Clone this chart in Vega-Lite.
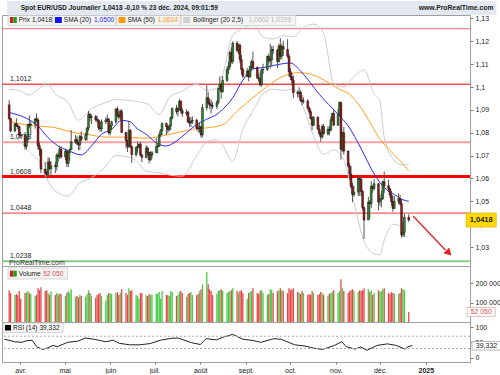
{
"$schema":"https://vega.github.io/schema/vega-lite/v6.json",
"padding":0,
"background":"#ffffff",
"spacing":0,
"bounds":"flush",
"config":{
 "view":{"stroke":"#a0a0a0","strokeWidth":1},
 "locale":{"number":{"decimal":",","thousands":" ","grouping":[3],"currency":["","€"]}},
 "axis":{"labelFont":"Liberation Sans","labelFontSize":7,"labelColor":"#222222","tickColor":"#777777","domainColor":"#a0a0a0","grid":false,"tickSize":3,"labelPadding":2},
 "text":{"font":"Liberation Sans","fontSize":6.6,"align":"left","baseline":"middle","color":"#222222"}
},
"datasets":{
"px":[
{"d":"2024-03-21","o":1.0922,"h":1.0942,"l":1.0855,"c":1.0862,"v":165000},
{"d":"2024-03-22","o":1.0862,"h":1.0866,"l":1.0802,"c":1.0808,"v":150000},
{"d":"2024-03-25","o":1.0808,"h":1.0842,"l":1.0802,"c":1.0839,"v":140000},
{"d":"2024-03-26","o":1.0839,"h":1.0864,"l":1.0826,"c":1.0830,"v":145000},
{"d":"2024-03-27","o":1.0830,"h":1.0840,"l":1.0814,"c":1.0826,"v":138000},
{"d":"2024-03-28","o":1.0826,"h":1.0830,"l":1.0775,"c":1.0790,"v":160000},
{"d":"2024-03-29","o":1.0790,"h":1.0804,"l":1.0776,"c":1.0787,"v":120000},
{"d":"2024-04-01","o":1.0787,"h":1.0803,"l":1.0725,"c":1.0741,"v":150000},
{"d":"2024-04-02","o":1.0741,"h":1.0778,"l":1.0728,"c":1.0771,"v":155000},
{"d":"2024-04-03","o":1.0771,"h":1.0840,"l":1.0756,"c":1.0836,"v":160000},
{"d":"2024-04-04","o":1.0836,"h":1.0876,"l":1.0820,"c":1.0833,"v":150000},
{"d":"2024-04-05","o":1.0833,"h":1.0849,"l":1.0792,"c":1.0837,"v":145000},
{"d":"2024-04-08","o":1.0837,"h":1.0865,"l":1.0818,"c":1.0860,"v":135000},
{"d":"2024-04-09","o":1.0860,"h":1.0885,"l":1.0848,"c":1.0856,"v":140000},
{"d":"2024-04-10","o":1.0856,"h":1.0866,"l":1.0728,"c":1.0743,"v":175000},
{"d":"2024-04-11","o":1.0743,"h":1.0756,"l":1.0699,"c":1.0727,"v":165000},
{"d":"2024-04-12","o":1.0727,"h":1.0732,"l":1.0623,"c":1.0641,"v":180000},
{"d":"2024-04-15","o":1.0641,"h":1.0672,"l":1.0615,"c":1.0624,"v":160000},
{"d":"2024-04-16","o":1.0624,"h":1.0634,"l":1.0601,"c":1.0618,"v":165000},
{"d":"2024-04-17","o":1.0618,"h":1.0692,"l":1.0612,"c":1.0672,"v":150000},
{"d":"2024-04-18","o":1.0672,"h":1.0690,"l":1.0639,"c":1.0643,"v":140000},
{"d":"2024-04-19","o":1.0643,"h":1.0675,"l":1.0611,"c":1.0656,"v":158000},
{"d":"2024-04-22","o":1.0656,"h":1.0672,"l":1.0623,"c":1.0652,"v":140000},
{"d":"2024-04-23","o":1.0652,"h":1.0710,"l":1.0634,"c":1.0702,"v":150000},
{"d":"2024-04-24","o":1.0702,"h":1.0713,"l":1.0673,"c":1.0697,"v":142000},
{"d":"2024-04-25","o":1.0697,"h":1.0743,"l":1.0685,"c":1.0728,"v":148000},
{"d":"2024-04-26","o":1.0728,"h":1.0740,"l":1.0688,"c":1.0694,"v":145000},
{"d":"2024-04-29","o":1.0694,"h":1.0731,"l":1.0680,"c":1.0720,"v":135000},
{"d":"2024-04-30","o":1.0720,"h":1.0725,"l":1.0650,"c":1.0666,"v":150000},
{"d":"2024-05-01","o":1.0666,"h":1.0719,"l":1.0650,"c":1.0714,"v":160000},
{"d":"2024-05-02","o":1.0714,"h":1.0730,"l":1.0677,"c":1.0727,"v":150000},
{"d":"2024-05-03","o":1.0727,"h":1.0812,"l":1.0725,"c":1.0760,"v":170000},
{"d":"2024-05-06","o":1.0760,"h":1.0790,"l":1.0752,"c":1.0770,"v":130000},
{"d":"2024-05-07","o":1.0770,"h":1.0785,"l":1.0746,"c":1.0754,"v":135000},
{"d":"2024-05-08","o":1.0754,"h":1.0760,"l":1.0723,"c":1.0747,"v":128000},
{"d":"2024-05-09","o":1.0747,"h":1.0790,"l":1.0724,"c":1.0783,"v":140000},
{"d":"2024-05-10","o":1.0783,"h":1.0806,"l":1.0765,"c":1.0770,"v":135000},
{"d":"2024-05-13","o":1.0770,"h":1.0801,"l":1.0765,"c":1.0790,"v":130000},
{"d":"2024-05-14","o":1.0790,"h":1.0826,"l":1.0765,"c":1.0820,"v":145000},
{"d":"2024-05-15","o":1.0820,"h":1.0895,"l":1.0810,"c":1.0880,"v":165000},
{"d":"2024-05-16","o":1.0880,"h":1.0888,"l":1.0850,"c":1.0866,"v":150000},
{"d":"2024-05-17","o":1.0866,"h":1.0880,"l":1.0838,"c":1.0870,"v":135000},
{"d":"2024-05-20","o":1.0870,"h":1.0878,"l":1.0848,"c":1.0857,"v":125000},
{"d":"2024-05-21","o":1.0857,"h":1.0874,"l":1.0842,"c":1.0854,"v":140000},
{"d":"2024-05-22","o":1.0854,"h":1.0861,"l":1.0811,"c":1.0822,"v":145000},
{"d":"2024-05-23","o":1.0822,"h":1.0852,"l":1.0804,"c":1.0817,"v":150000},
{"d":"2024-05-24","o":1.0817,"h":1.0858,"l":1.0805,"c":1.0847,"v":135000},
{"d":"2024-05-27","o":1.0847,"h":1.0868,"l":1.0838,"c":1.0856,"v":110000},
{"d":"2024-05-28","o":1.0856,"h":1.0880,"l":1.0848,"c":1.0859,"v":140000},
{"d":"2024-05-29","o":1.0859,"h":1.0865,"l":1.0792,"c":1.0800,"v":150000},
{"d":"2024-05-30","o":1.0800,"h":1.0833,"l":1.0788,"c":1.0830,"v":148000},
{"d":"2024-05-31","o":1.0830,"h":1.0852,"l":1.0812,"c":1.0848,"v":145000},
{"d":"2024-06-03","o":1.0848,"h":1.0907,"l":1.0840,"c":1.0904,"v":150000},
{"d":"2024-06-04","o":1.0904,"h":1.0915,"l":1.0867,"c":1.0877,"v":155000},
{"d":"2024-06-05","o":1.0877,"h":1.0888,"l":1.0858,"c":1.0869,"v":140000},
{"d":"2024-06-06","o":1.0869,"h":1.0902,"l":1.0857,"c":1.0893,"v":150000},
{"d":"2024-06-07","o":1.0893,"h":1.0903,"l":1.0800,"c":1.0801,"v":170000},
{"d":"2024-06-10","o":1.0801,"h":1.0804,"l":1.0732,"c":1.0766,"v":150000},
{"d":"2024-06-11","o":1.0766,"h":1.0767,"l":1.0715,"c":1.0741,"v":140000},
{"d":"2024-06-12","o":1.0741,"h":1.0852,"l":1.0733,"c":1.0810,"v":175000},
{"d":"2024-06-13","o":1.0810,"h":1.0816,"l":1.0734,"c":1.0739,"v":160000},
{"d":"2024-06-14","o":1.0739,"h":1.0743,"l":1.0668,"c":1.0704,"v":165000},
{"d":"2024-06-17","o":1.0704,"h":1.0740,"l":1.0695,"c":1.0736,"v":140000},
{"d":"2024-06-18","o":1.0736,"h":1.0761,"l":1.0712,"c":1.0740,"v":135000},
{"d":"2024-06-19","o":1.0740,"h":1.0752,"l":1.0730,"c":1.0750,"v":120000},
{"d":"2024-06-20","o":1.0750,"h":1.0761,"l":1.0697,"c":1.0702,"v":150000},
{"d":"2024-06-21","o":1.0702,"h":1.0709,"l":1.0671,"c":1.0692,"v":150000},
{"d":"2024-06-24","o":1.0692,"h":1.0745,"l":1.0688,"c":1.0733,"v":138000},
{"d":"2024-06-25","o":1.0733,"h":1.0740,"l":1.0700,"c":1.0714,"v":135000},
{"d":"2024-06-26","o":1.0714,"h":1.0716,"l":1.0666,"c":1.0682,"v":145000},
{"d":"2024-06-27","o":1.0682,"h":1.0719,"l":1.0676,"c":1.0702,"v":140000},
{"d":"2024-06-28","o":1.0702,"h":1.0720,"l":1.0687,"c":1.0713,"v":142000},
{"d":"2024-07-01","o":1.0713,"h":1.0776,"l":1.0710,"c":1.0739,"v":148000},
{"d":"2024-07-02","o":1.0739,"h":1.0755,"l":1.0710,"c":1.0741,"v":145000},
{"d":"2024-07-03","o":1.0741,"h":1.0800,"l":1.0738,"c":1.0790,"v":155000},
{"d":"2024-07-04","o":1.0790,"h":1.0816,"l":1.0783,"c":1.0810,"v":120000},
{"d":"2024-07-05","o":1.0810,"h":1.0845,"l":1.0790,"c":1.0840,"v":160000},
{"d":"2024-07-08","o":1.0840,"h":1.0845,"l":1.0790,"c":1.0826,"v":140000},
{"d":"2024-07-09","o":1.0826,"h":1.0832,"l":1.0797,"c":1.0813,"v":138000},
{"d":"2024-07-10","o":1.0813,"h":1.0835,"l":1.0806,"c":1.0830,"v":135000},
{"d":"2024-07-11","o":1.0830,"h":1.0871,"l":1.0812,"c":1.0866,"v":160000},
{"d":"2024-07-12","o":1.0866,"h":1.0910,"l":1.0858,"c":1.0907,"v":155000},
{"d":"2024-07-15","o":1.0907,"h":1.0922,"l":1.0880,"c":1.0893,"v":135000},
{"d":"2024-07-16","o":1.0893,"h":1.0913,"l":1.0872,"c":1.0902,"v":140000},
{"d":"2024-07-17","o":1.0902,"h":1.0948,"l":1.0898,"c":1.0937,"v":155000},
{"d":"2024-07-18","o":1.0937,"h":1.0943,"l":1.0886,"c":1.0897,"v":160000},
{"d":"2024-07-19","o":1.0897,"h":1.0907,"l":1.0868,"c":1.0884,"v":150000},
{"d":"2024-07-22","o":1.0884,"h":1.0902,"l":1.0874,"c":1.0890,"v":130000},
{"d":"2024-07-23","o":1.0890,"h":1.0895,"l":1.0841,"c":1.0847,"v":145000},
{"d":"2024-07-24","o":1.0847,"h":1.0868,"l":1.0826,"c":1.0843,"v":150000},
{"d":"2024-07-25","o":1.0843,"h":1.0869,"l":1.0825,"c":1.0850,"v":155000},
{"d":"2024-07-26","o":1.0850,"h":1.0872,"l":1.0838,"c":1.0855,"v":140000},
{"d":"2024-07-29","o":1.0855,"h":1.0862,"l":1.0810,"c":1.0820,"v":138000},
{"d":"2024-07-30","o":1.0820,"h":1.0838,"l":1.0802,"c":1.0818,"v":145000},
{"d":"2024-07-31","o":1.0818,"h":1.0846,"l":1.0800,"c":1.0826,"v":160000},
{"d":"2024-08-01","o":1.0826,"h":1.0830,"l":1.0778,"c":1.0790,"v":170000},
{"d":"2024-08-02","o":1.0790,"h":1.0926,"l":1.0780,"c":1.0910,"v":195000},
{"d":"2024-08-05","o":1.0910,"h":1.1008,"l":1.0897,"c":1.0953,"v":257000},
{"d":"2024-08-06","o":1.0953,"h":1.0978,"l":1.0925,"c":1.0930,"v":195000},
{"d":"2024-08-07","o":1.0930,"h":1.0947,"l":1.0904,"c":1.0922,"v":170000},
{"d":"2024-08-08","o":1.0922,"h":1.0944,"l":1.0884,"c":1.0918,"v":160000},
{"d":"2024-08-09","o":1.0918,"h":1.0935,"l":1.0904,"c":1.0916,"v":140000},
{"d":"2024-08-12","o":1.0916,"h":1.0942,"l":1.0903,"c":1.0933,"v":145000},
{"d":"2024-08-13","o":1.0933,"h":1.0996,"l":1.0925,"c":1.0993,"v":160000},
{"d":"2024-08-14","o":1.0993,"h":1.1047,"l":1.0985,"c":1.1012,"v":165000},
{"d":"2024-08-15","o":1.1012,"h":1.1020,"l":1.0948,"c":1.0980,"v":170000},
{"d":"2024-08-16","o":1.0980,"h":1.1048,"l":1.0975,"c":1.1029,"v":160000},
{"d":"2024-08-19","o":1.1029,"h":1.1086,"l":1.1022,"c":1.1076,"v":150000},
{"d":"2024-08-20","o":1.1076,"h":1.1110,"l":1.1057,"c":1.1090,"v":155000},
{"d":"2024-08-21","o":1.1090,"h":1.1160,"l":1.1078,"c":1.1151,"v":160000},
{"d":"2024-08-22","o":1.1151,"h":1.1174,"l":1.1103,"c":1.1112,"v":165000},
{"d":"2024-08-23","o":1.1112,"h":1.1200,"l":1.1101,"c":1.1192,"v":175000},
{"d":"2024-08-26","o":1.1192,"h":1.1202,"l":1.1150,"c":1.1160,"v":160000},
{"d":"2024-08-27","o":1.1160,"h":1.1189,"l":1.1144,"c":1.1183,"v":150000},
{"d":"2024-08-28","o":1.1183,"h":1.1190,"l":1.1105,"c":1.1120,"v":160000},
{"d":"2024-08-29","o":1.1120,"h":1.1140,"l":1.1056,"c":1.1077,"v":165000},
{"d":"2024-08-30","o":1.1077,"h":1.1086,"l":1.1040,"c":1.1047,"v":150000},
{"d":"2024-09-02","o":1.1047,"h":1.1083,"l":1.1043,"c":1.1070,"v":120000},
{"d":"2024-09-03","o":1.1070,"h":1.1075,"l":1.1026,"c":1.1045,"v":150000},
{"d":"2024-09-04","o":1.1045,"h":1.1093,"l":1.1040,"c":1.1090,"v":155000},
{"d":"2024-09-05","o":1.1090,"h":1.1120,"l":1.1070,"c":1.1111,"v":160000},
{"d":"2024-09-06","o":1.1111,"h":1.1155,"l":1.1075,"c":1.1085,"v":175000},
{"d":"2024-09-09","o":1.1085,"h":1.1090,"l":1.1035,"c":1.1040,"v":150000},
{"d":"2024-09-10","o":1.1040,"h":1.1057,"l":1.1022,"c":1.1035,"v":145000},
{"d":"2024-09-11","o":1.1035,"h":1.1068,"l":1.1002,"c":1.1010,"v":160000},
{"d":"2024-09-12","o":1.1010,"h":1.1080,"l":1.1002,"c":1.1075,"v":165000},
{"d":"2024-09-13","o":1.1075,"h":1.1102,"l":1.1057,"c":1.1077,"v":150000},
{"d":"2024-09-16","o":1.1077,"h":1.1138,"l":1.1070,"c":1.1134,"v":140000},
{"d":"2024-09-17","o":1.1134,"h":1.1147,"l":1.1106,"c":1.1115,"v":145000},
{"d":"2024-09-18","o":1.1115,"h":1.1189,"l":1.1080,"c":1.1119,"v":170000},
{"d":"2024-09-19","o":1.1119,"h":1.1179,"l":1.1090,"c":1.1163,"v":165000},
{"d":"2024-09-20","o":1.1163,"h":1.1180,"l":1.1145,"c":1.1161,"v":150000},
{"d":"2024-09-23","o":1.1161,"h":1.1167,"l":1.1083,"c":1.1112,"v":160000},
{"d":"2024-09-24","o":1.1112,"h":1.1190,"l":1.1106,"c":1.1180,"v":165000},
{"d":"2024-09-25","o":1.1180,"h":1.1214,"l":1.1123,"c":1.1135,"v":175000},
{"d":"2024-09-26","o":1.1135,"h":1.1189,"l":1.1120,"c":1.1177,"v":165000},
{"d":"2024-09-27","o":1.1177,"h":1.1202,"l":1.1136,"c":1.1165,"v":160000},
{"d":"2024-09-30","o":1.1165,"h":1.1209,"l":1.1127,"c":1.1135,"v":150000},
{"d":"2024-10-01","o":1.1135,"h":1.1146,"l":1.1045,"c":1.1067,"v":175000},
{"d":"2024-10-02","o":1.1067,"h":1.1083,"l":1.1031,"c":1.1045,"v":165000},
{"d":"2024-10-03","o":1.1045,"h":1.1063,"l":1.1005,"c":1.1030,"v":170000},
{"d":"2024-10-04","o":1.1030,"h":1.1050,"l":1.0951,"c":1.0975,"v":175000},
{"d":"2024-10-07","o":1.0975,"h":1.0985,"l":1.0955,"c":1.0972,"v":155000},
{"d":"2024-10-08","o":1.0972,"h":1.0999,"l":1.0955,"c":1.0978,"v":150000},
{"d":"2024-10-09","o":1.0978,"h":1.0985,"l":1.0935,"c":1.0942,"v":145000},
{"d":"2024-10-10","o":1.0942,"h":1.0965,"l":1.0920,"c":1.0937,"v":160000},
{"d":"2024-10-11","o":1.0937,"h":1.0955,"l":1.0927,"c":1.0939,"v":150000},
{"d":"2024-10-14","o":1.0939,"h":1.0946,"l":1.0900,"c":1.0908,"v":140000},
{"d":"2024-10-15","o":1.0908,"h":1.0916,"l":1.0880,"c":1.0892,"v":145000},
{"d":"2024-10-16","o":1.0892,"h":1.0904,"l":1.0858,"c":1.0862,"v":140000},
{"d":"2024-10-17","o":1.0862,"h":1.0873,"l":1.0811,"c":1.0833,"v":160000},
{"d":"2024-10-18","o":1.0833,"h":1.0872,"l":1.0829,"c":1.0868,"v":150000},
{"d":"2024-10-21","o":1.0868,"h":1.0872,"l":1.0811,"c":1.0816,"v":140000},
{"d":"2024-10-22","o":1.0816,"h":1.0834,"l":1.0788,"c":1.0797,"v":145000},
{"d":"2024-10-23","o":1.0797,"h":1.0806,"l":1.0761,"c":1.0781,"v":155000},
{"d":"2024-10-24","o":1.0781,"h":1.0837,"l":1.0774,"c":1.0827,"v":150000},
{"d":"2024-10-25","o":1.0827,"h":1.0838,"l":1.0793,"c":1.0795,"v":140000},
{"d":"2024-10-28","o":1.0795,"h":1.0828,"l":1.0788,"c":1.0815,"v":135000},
{"d":"2024-10-29","o":1.0815,"h":1.0830,"l":1.0788,"c":1.0812,"v":145000},
{"d":"2024-10-30","o":1.0812,"h":1.0870,"l":1.0805,"c":1.0856,"v":150000},
{"d":"2024-10-31","o":1.0856,"h":1.0888,"l":1.0850,"c":1.0884,"v":155000},
{"d":"2024-11-01","o":1.0884,"h":1.0905,"l":1.0830,"c":1.0833,"v":165000},
{"d":"2024-11-04","o":1.0833,"h":1.0905,"l":1.0830,"c":1.0880,"v":150000},
{"d":"2024-11-05","o":1.0880,"h":1.0937,"l":1.0872,"c":1.0932,"v":160000},
{"d":"2024-11-06","o":1.0932,"h":1.0936,"l":1.0682,"c":1.0727,"v":222000},
{"d":"2024-11-07","o":1.0727,"h":1.0805,"l":1.0715,"c":1.0800,"v":175000},
{"d":"2024-11-08","o":1.0800,"h":1.0826,"l":1.0705,"c":1.0720,"v":160000},
{"d":"2024-11-11","o":1.0720,"h":1.0722,"l":1.0647,"c":1.0655,"v":150000},
{"d":"2024-11-12","o":1.0655,"h":1.0668,"l":1.0595,"c":1.0620,"v":160000},
{"d":"2024-11-13","o":1.0620,"h":1.0653,"l":1.0557,"c":1.0565,"v":165000},
{"d":"2024-11-14","o":1.0565,"h":1.0581,"l":1.0496,"c":1.0530,"v":170000},
{"d":"2024-11-15","o":1.0530,"h":1.0569,"l":1.0520,"c":1.0540,"v":160000},
{"d":"2024-11-18","o":1.0540,"h":1.0608,"l":1.0523,"c":1.0600,"v":155000},
{"d":"2024-11-19","o":1.0600,"h":1.0610,"l":1.0524,"c":1.0596,"v":165000},
{"d":"2024-11-20","o":1.0596,"h":1.0611,"l":1.0523,"c":1.0543,"v":160000},
{"d":"2024-11-21","o":1.0543,"h":1.0549,"l":1.0460,"c":1.0473,"v":165000},
{"d":"2024-11-22","o":1.0473,"h":1.0476,"l":1.0335,"c":1.0418,"v":175000},
{"d":"2024-11-25","o":1.0418,"h":1.0520,"l":1.0418,"c":1.0496,"v":170000},
{"d":"2024-11-26","o":1.0496,"h":1.0506,"l":1.0424,"c":1.0489,"v":155000},
{"d":"2024-11-27","o":1.0489,"h":1.0588,"l":1.0470,"c":1.0566,"v":165000},
{"d":"2024-11-28","o":1.0566,"h":1.0570,"l":1.0538,"c":1.0556,"v":140000},
{"d":"2024-11-29","o":1.0556,"h":1.0597,"l":1.0548,"c":1.0577,"v":150000},
{"d":"2024-12-02","o":1.0577,"h":1.0579,"l":1.0460,"c":1.0497,"v":165000},
{"d":"2024-12-03","o":1.0497,"h":1.0530,"l":1.0480,"c":1.0510,"v":155000},
{"d":"2024-12-04","o":1.0510,"h":1.0544,"l":1.0473,"c":1.0512,"v":160000},
{"d":"2024-12-05","o":1.0512,"h":1.0590,"l":1.0505,"c":1.0586,"v":170000},
{"d":"2024-12-06","o":1.0586,"h":1.0630,"l":1.0537,"c":1.0568,"v":175000},
{"d":"2024-12-09","o":1.0568,"h":1.0594,"l":1.0540,"c":1.0554,"v":150000},
{"d":"2024-12-10","o":1.0554,"h":1.0560,"l":1.0515,"c":1.0528,"v":145000},
{"d":"2024-12-11","o":1.0528,"h":1.0545,"l":1.0481,"c":1.0499,"v":155000},
{"d":"2024-12-12","o":1.0499,"h":1.0522,"l":1.0454,"c":1.0469,"v":150000},
{"d":"2024-12-13","o":1.0469,"h":1.0524,"l":1.0467,"c":1.0500,"v":148000},
{"d":"2024-12-16","o":1.0500,"h":1.0535,"l":1.0487,"c":1.0512,"v":145000},
{"d":"2024-12-17","o":1.0512,"h":1.0527,"l":1.0480,"c":1.0490,"v":150000},
{"d":"2024-12-18","o":1.0490,"h":1.0510,"l":1.0342,"c":1.0353,"v":175000},
{"d":"2024-12-19","o":1.0353,"h":1.0412,"l":1.0343,"c":1.0364,"v":170000},
{"d":"2024-12-20","o":1.0364,"h":1.0445,"l":1.0344,"c":1.0430,"v":165000},
{"d":"2024-12-23","o":1.0430,"h":1.0444,"l":1.0410,"c":1.0418,"v":52050}
],
"sma20":[
{"d":"2024-03-21","s":1.0888},{"d":"2024-04-02","s":1.0863},{"d":"2024-04-10","s":1.0829},{"d":"2024-04-17","s":1.0778},{"d":"2024-04-24","s":1.0742},{"d":"2024-05-01","s":1.0722},{"d":"2024-05-10","s":1.0703},{"d":"2024-05-17","s":1.0742},{"d":"2024-05-24","s":1.0793},{"d":"2024-05-31","s":1.0815},{"d":"2024-06-07","s":1.0854},{"d":"2024-06-13","s":1.0848},{"d":"2024-06-17","s":1.0822},{"d":"2024-06-24","s":1.0793},{"d":"2024-07-02","s":1.0752},{"d":"2024-07-08","s":1.0742},{"d":"2024-07-15","s":1.0764},{"d":"2024-07-22","s":1.0800},{"d":"2024-07-29","s":1.0837},{"d":"2024-08-05","s":1.0859},{"d":"2024-08-12","s":1.0881},{"d":"2024-08-16","s":1.0902},{"d":"2024-08-23","s":1.0953},{"d":"2024-08-30","s":1.1030},{"d":"2024-09-06","s":1.1080},{"d":"2024-09-13","s":1.1085},{"d":"2024-09-20","s":1.1094},{"d":"2024-10-02","s":1.1105},{"d":"2024-10-09","s":1.1070},{"d":"2024-10-22","s":1.0968},{"d":"2024-11-04","s":1.0880},{"d":"2024-11-11","s":1.0830},{"d":"2024-11-20","s":1.0730},{"d":"2024-11-29","s":1.0620},{"d":"2024-12-06","s":1.0560},{"d":"2024-12-13","s":1.0530},{"d":"2024-12-18","s":1.0509},{"d":"2024-12-23","s":1.0500}
],
"sma50":[
{"d":"2024-03-21","s":1.0851},{"d":"2024-04-02","s":1.0834},{"d":"2024-04-10","s":1.0829},{"d":"2024-04-22","s":1.0822},{"d":"2024-05-03","s":1.0803},{"d":"2024-05-14","s":1.0793},{"d":"2024-05-27","s":1.0781},{"d":"2024-06-07","s":1.0781},{"d":"2024-06-24","s":1.0776},{"d":"2024-07-02","s":1.0782},{"d":"2024-07-15","s":1.0800},{"d":"2024-07-26","s":1.0815},{"d":"2024-08-06","s":1.0822},{"d":"2024-08-16","s":1.0835},{"d":"2024-08-27","s":1.0900},{"d":"2024-09-12","s":1.0983},{"d":"2024-09-25","s":1.1041},{"d":"2024-10-08","s":1.1063},{"d":"2024-10-15","s":1.1058},{"d":"2024-10-22","s":1.1041},{"d":"2024-11-05","s":1.0990},{"d":"2024-11-12","s":1.0968},{"d":"2024-11-19","s":1.0917},{"d":"2024-12-04","s":1.0764},{"d":"2024-12-16","s":1.0684},{"d":"2024-12-23","s":1.0634}
],
"bb":[
{"d":"2024-03-21","u":1.0990,"lo":1.0785},{"d":"2024-03-28","u":1.0985,"lo":1.0765},{"d":"2024-04-04","u":1.0965,"lo":1.0715},{"d":"2024-04-11","u":1.0995,"lo":1.0670},{"d":"2024-04-16","u":1.1015,"lo":1.0600},{"d":"2024-04-22","u":1.0970,"lo":1.0545},{"d":"2024-05-01","u":1.0930,"lo":1.0523},{"d":"2024-05-08","u":1.0855,"lo":1.0576},{"d":"2024-05-17","u":1.0905,"lo":1.0603},{"d":"2024-05-26","u":1.0930,"lo":1.0646},{"d":"2024-06-03","u":1.0945,"lo":1.0700},{"d":"2024-06-14","u":1.0940,"lo":1.0690},{"d":"2024-06-25","u":1.0925,"lo":1.0630},{"d":"2024-07-03","u":1.0880,"lo":1.0625},{"d":"2024-07-10","u":1.0953,"lo":1.0615},{"d":"2024-07-19","u":1.0983,"lo":1.0610},{"d":"2024-07-29","u":1.1012,"lo":1.0700},{"d":"2024-08-05","u":1.0985,"lo":1.0760},{"d":"2024-08-12","u":1.0995,"lo":1.0770},{"d":"2024-08-16","u":1.1055,"lo":1.0745},{"d":"2024-08-23","u":1.1225,"lo":1.0675},{"d":"2024-08-30","u":1.1255,"lo":1.0815},{"d":"2024-09-06","u":1.1275,"lo":1.0895},{"d":"2024-09-13","u":1.1220,"lo":1.0970},{"d":"2024-09-20","u":1.1210,"lo":1.0990},{"d":"2024-09-27","u":1.1225,"lo":1.0985},{"d":"2024-10-04","u":1.1220,"lo":1.0990},{"d":"2024-10-11","u":1.1260,"lo":1.0910},{"d":"2024-10-18","u":1.1275,"lo":1.0785},{"d":"2024-10-25","u":1.1235,"lo":1.0705},{"d":"2024-11-01","u":1.1015,"lo":1.0725},{"d":"2024-11-08","u":1.1000,"lo":1.0680},{"d":"2024-11-15","u":1.1045,"lo":1.0495},{"d":"2024-11-22","u":1.1075,"lo":1.0325},{"d":"2024-11-29","u":1.0970,"lo":1.0270},{"d":"2024-12-03","u":1.0940,"lo":1.0265},{"d":"2024-12-06","u":1.0780,"lo":1.0330},{"d":"2024-12-13","u":1.0680,"lo":1.0400},{"d":"2024-12-18","u":1.0660,"lo":1.0385},{"d":"2024-12-20","u":1.0660,"lo":1.0355},{"d":"2024-12-23","u":1.0662,"lo":1.0339}
],
"rsi":[
{"d":"2024-03-21","r":60},{"d":"2024-03-25","r":56},{"d":"2024-03-28","r":52},{"d":"2024-04-02","r":50},{"d":"2024-04-05","r":55},{"d":"2024-04-09","r":57},{"d":"2024-04-12","r":36},{"d":"2024-04-16","r":27},{"d":"2024-04-19","r":31},{"d":"2024-04-23","r":40},{"d":"2024-04-26","r":36},{"d":"2024-05-03","r":50},{"d":"2024-05-10","r":54},{"d":"2024-05-15","r":64},{"d":"2024-05-21","r":60},{"d":"2024-05-29","r":52},{"d":"2024-06-03","r":57},{"d":"2024-06-07","r":47},{"d":"2024-06-14","r":42},{"d":"2024-06-21","r":42},{"d":"2024-06-28","r":46},{"d":"2024-07-05","r":57},{"d":"2024-07-12","r":63},{"d":"2024-07-17","r":64},{"d":"2024-07-26","r":49},{"d":"2024-08-01","r":43},{"d":"2024-08-05","r":62},{"d":"2024-08-12","r":58},{"d":"2024-08-16","r":66},{"d":"2024-08-23","r":76},{"d":"2024-08-30","r":60},{"d":"2024-09-06","r":56},{"d":"2024-09-11","r":50},{"d":"2024-09-20","r":62},{"d":"2024-09-25","r":60},{"d":"2024-10-01","r":48},{"d":"2024-10-04","r":42},{"d":"2024-10-11","r":38},{"d":"2024-10-17","r":31},{"d":"2024-10-23","r":27},{"d":"2024-10-31","r":40},{"d":"2024-11-05","r":52},{"d":"2024-11-08","r":36},{"d":"2024-11-14","r":28},{"d":"2024-11-18","r":35},{"d":"2024-11-22","r":24},{"d":"2024-11-29","r":40},{"d":"2024-12-06","r":45},{"d":"2024-12-12","r":40},{"d":"2024-12-18","r":28},{"d":"2024-12-20","r":36},{"d":"2024-12-23","r":39.332}
],
"lvl":[{"level":1.1012},{"level":1.0758},{"level":1.0608},{"level":1.0448},{"level":1.0238}],
"arrow":[{"d":"2024-12-26","p":1.0436},{"d":"2025-01-17T10:00:00Z","p":1.0287}]
},
"vconcat":[
{
"width":468,"height":251,
"layer":[
 {"data":{"values":[{}]},"layer":[
  {"mark":{"type":"rect","fill":"#e2e9f0","clip":false},
   "encoding":{
    "x":{"datum":{"year":2024,"month":3,"date":19,"hours":12,"utc":true},"type":"temporal","scale":{"type":"utc","domain":[{"year":2024,"month":3,"date":19,"hours":12,"utc":true},{"year":2025,"month":1,"date":31,"utc":true}]},"axis":{"labels":false,"ticks":false,"domain":false,"title":null}},
    "x2":{"datum":{"year":2025,"month":2,"date":21,"hours":17,"utc":true}},
    "y":{"datum":1.13762,"type":"quantitative","scale":{"domain":[1.0217,1.1315],"zero":false,"nice":false},"axis":{"orient":"right","values":[1.03,1.04,1.05,1.06,1.07,1.08,1.09,1.1,1.11,1.12,1.13],"tickCount":30,"format":".2~f","title":null,"labelOverlap":false}},
    "y2":{"datum":1.1315}}},
  {"mark":{"type":"rule","color":"#f07070","strokeWidth":1},"encoding":{"y":{"datum":1.1255}}},
  {"mark":{"type":"rule","color":"#f05050","strokeWidth":1.3},"encoding":{"y":{"datum":1.1012}}},
  {"mark":{"type":"rule","color":"#f4a0a0","strokeWidth":2},"encoding":{"y":{"datum":1.0758}}},
  {"mark":{"type":"rule","color":"#ff0000","strokeWidth":3},"encoding":{"y":{"datum":1.0608}}},
  {"mark":{"type":"rule","color":"#f06060","strokeWidth":1.3},"encoding":{"y":{"datum":1.0448}}},
  {"mark":{"type":"rule","color":"#88c888","strokeWidth":2},"encoding":{"y":{"datum":1.0238}}}
 ]},
 {"data":{"name":"lvl"},"mark":{"type":"text","dy":-5,"fontSize":7},
  "encoding":{"x":{"datum":{"year":2024,"month":3,"date":21,"hours":13,"utc":true},"type":"temporal"},"y":{"field":"level","type":"quantitative"},"text":{"field":"level","type":"quantitative","format":".4f"}}},
 {"data":{"name":"bb"},"mark":{"type":"line","color":"#cccccc","strokeWidth":1,"interpolate":"monotone"},"encoding":{"x":{"field":"d","type":"temporal"},"y":{"field":"u","type":"quantitative"}}},
 {"data":{"name":"bb"},"mark":{"type":"line","color":"#cccccc","strokeWidth":1,"interpolate":"monotone"},"encoding":{"x":{"field":"d","type":"temporal"},"y":{"field":"lo","type":"quantitative"}}},
 {"data":{"name":"sma50"},"mark":{"type":"line","color":"#ffa020","strokeWidth":1,"interpolate":"monotone"},"encoding":{"x":{"field":"d","type":"temporal"},"y":{"field":"s","type":"quantitative"}}},
 {"data":{"name":"sma20"},"mark":{"type":"line","color":"#2a2aff","strokeWidth":1,"interpolate":"monotone"},"encoding":{"x":{"field":"d","type":"temporal"},"y":{"field":"s","type":"quantitative"}}},
 {"data":{"name":"px"},"mark":{"type":"rule","color":"#555555","strokeWidth":1},"encoding":{"x":{"field":"d","type":"temporal"},"y":{"field":"l","type":"quantitative"},"y2":{"field":"h"}}},
 {"data":{"name":"px"},"mark":{"type":"bar","size":1.8,"stroke":"#111111","strokeWidth":0.5},"encoding":{"x":{"field":"d","type":"temporal"},"y":{"field":"o","type":"quantitative","axis":{"orient":"right","values":[1.03,1.04,1.05,1.06,1.07,1.08,1.09,1.1,1.11,1.12,1.13],"tickCount":30,"format":".2~f","title":null,"labelOverlap":false}},"y2":{"field":"c"},"color":{"condition":{"test":"datum.c >= datum.o","value":"#2f8f2f"},"value":"#a31515"}}},
 {"data":{"name":"arrow"},"mark":{"type":"line","color":"#e52020","strokeWidth":1.3,"clip":false},"encoding":{"x":{"field":"d","type":"temporal"},"y":{"field":"p","type":"quantitative"}}},
 {"data":{"values":[{}]},"layer":[
  {"mark":{"type":"point","shape":"triangle-up","filled":true,"color":"#e52020","size":70,"angle":135,"opacity":1,"clip":false},"encoding":{"x":{"datum":{"year":2025,"month":1,"date":19,"hours":19,"utc":true},"type":"temporal"},"y":{"datum":1.0274}}},
  {"mark":{"type":"rect","fill":"#f4f4f4","stroke":"#c8c8c8","strokeWidth":0.7},"encoding":{"x":{"datum":{"year":2024,"month":3,"date":20,"hours":4,"utc":true},"type":"temporal"},"x2":{"datum":{"year":2024,"month":4,"date":19,"hours":17,"utc":true}},"y":{"datum":1.13128},"y2":{"datum":1.12691}}},
  {"mark":{"type":"rect","fill":"#f4f4f4","stroke":"#c8c8c8","strokeWidth":0.7},"encoding":{"x":{"datum":{"year":2024,"month":4,"date":20,"hours":10,"utc":true},"type":"temporal"},"x2":{"datum":{"year":2024,"month":6,"date":2,"hours":19,"utc":true}},"y":{"datum":1.13128},"y2":{"datum":1.12691}}},
  {"mark":{"type":"rect","fill":"#f4f4f4","stroke":"#c8c8c8","strokeWidth":0.7},"encoding":{"x":{"datum":{"year":2024,"month":6,"date":3,"hours":12,"utc":true},"type":"temporal"},"x2":{"datum":{"year":2024,"month":7,"date":17,"hours":14,"utc":true}},"y":{"datum":1.13128},"y2":{"datum":1.12691}}},
  {"mark":{"type":"rect","fill":"#f4f4f4","stroke":"#c8c8c8","strokeWidth":0.7},"encoding":{"x":{"datum":{"year":2024,"month":7,"date":18,"hours":6,"utc":true},"type":"temporal"},"x2":{"datum":{"year":2024,"month":10,"date":5,"hours":15,"utc":true}},"y":{"datum":1.13128},"y2":{"datum":1.12691}}},
  {"mark":{"type":"rect","fill":"#d42020"},"encoding":{"x":{"datum":{"year":2024,"month":3,"date":21,"hours":13,"utc":true},"type":"temporal"},"x2":{"datum":{"year":2024,"month":3,"date":23,"hours":22,"utc":true}},"y":{"datum":1.13062},"y2":{"datum":1.12800}}},
  {"mark":{"type":"rect","fill":"#20a020"},"encoding":{"x":{"datum":{"year":2024,"month":3,"date":23,"hours":22,"utc":true},"type":"temporal"},"x2":{"datum":{"year":2024,"month":3,"date":26,"hours":7,"utc":true}},"y":{"datum":1.13062},"y2":{"datum":1.12800}}},
  {"mark":{"type":"rect","fill":"#1010ff"},"encoding":{"x":{"datum":{"year":2024,"month":4,"date":21,"hours":18,"utc":true},"type":"temporal"},"x2":{"datum":{"year":2024,"month":4,"date":26,"hours":12,"utc":true}},"y":{"datum":1.13062},"y2":{"datum":1.12800}}},
  {"mark":{"type":"rect","fill":"#ff9a10"},"encoding":{"x":{"datum":{"year":2024,"month":6,"date":4,"hours":20,"utc":true},"type":"temporal"},"x2":{"datum":{"year":2024,"month":6,"date":9,"hours":14,"utc":true}},"y":{"datum":1.13062},"y2":{"datum":1.12800}}},
  {"mark":{"type":"rect","fill":"#d0d0d0"},"encoding":{"x":{"datum":{"year":2024,"month":7,"date":19,"hours":15,"utc":true},"type":"temporal"},"x2":{"datum":{"year":2024,"month":7,"date":24,"hours":9,"utc":true}},"y":{"datum":1.13062},"y2":{"datum":1.12800}}},
  {"mark":{"type":"text"},"encoding":{"x":{"datum":{"year":2024,"month":3,"date":27,"hours":15,"utc":true},"type":"temporal"},"y":{"datum":1.12931},"text":{"value":"Prix 1,0418"}}},
  {"mark":{"type":"text"},"encoding":{"x":{"datum":{"year":2024,"month":4,"date":27,"hours":20,"utc":true},"type":"temporal"},"y":{"datum":1.12931},"text":{"value":"SMA (20)"}}},
  {"mark":{"type":"text","color":"#2020ff"},"encoding":{"x":{"datum":{"year":2024,"month":5,"date":18,"hours":21,"utc":true},"type":"temporal"},"y":{"datum":1.12931},"text":{"value":"1,0500"}}},
  {"mark":{"type":"text"},"encoding":{"x":{"datum":{"year":2024,"month":6,"date":10,"hours":23,"utc":true},"type":"temporal"},"y":{"datum":1.12931},"text":{"value":"SMA (50)"}}},
  {"mark":{"type":"text","color":"#ff9a10"},"encoding":{"x":{"datum":{"year":2024,"month":7,"date":1,"hours":23,"utc":true},"type":"temporal"},"y":{"datum":1.12931},"text":{"value":"1,0634"}}},
  {"mark":{"type":"text"},"encoding":{"x":{"datum":{"year":2024,"month":7,"date":26,"hours":10,"utc":true},"type":"temporal"},"y":{"datum":1.12931},"text":{"value":"Bollinger (20 2,5)"}}},
  {"mark":{"type":"text","color":"#bbbbbb"},"encoding":{"x":{"datum":{"year":2024,"month":9,"date":3,"hours":2,"utc":true},"type":"temporal"},"y":{"datum":1.12931},"text":{"value":"1,0662 1,0339"}}},
  {"mark":{"type":"text","fontWeight":"bold","fontSize":6.6,"clip":false},"encoding":{"x":{"datum":{"year":2024,"month":3,"date":29,"hours":0,"utc":true},"type":"temporal"},"y":{"datum":1.13478},"text":{"value":"Spot EUR/USD Journalier 1,0418 -0,10 % 23 déc. 2024, 09:01:59"}}},
  {"mark":{"type":"text","fontWeight":"bold","fontSize":6.8,"align":"right","clip":false},"encoding":{"x":{"datum":{"year":2025,"month":2,"date":19,"hours":17,"utc":true},"type":"temporal"},"y":{"datum":1.13478},"text":{"value":"www.ProRealTime.com"}}},
  {"mark":{"type":"text","dy":-3,"color":"#333333","fontSize":7},"encoding":{"x":{"datum":{"year":2024,"month":3,"date":20,"hours":21,"utc":true},"type":"temporal"},"y":{"datum":1.0217},"text":{"value":"ProRealTime.com"}}},
  {"mark":{"type":"rect","fill":"#ffd800","stroke":"#c8a800","strokeWidth":0.5,"clip":false},"encoding":{"x":{"datum":{"year":2025,"month":1,"date":31,"hours":17,"utc":true},"type":"temporal"},"x2":{"datum":{"year":2025,"month":2,"date":21,"hours":17,"utc":true}},"y":{"datum":1.0449},"y2":{"datum":1.0387}}},
  {"mark":{"type":"text","fontWeight":"bold","fontSize":7.5,"align":"center","clip":false},"encoding":{"x":{"datum":{"year":2025,"month":2,"date":11,"hours":5,"utc":true},"type":"temporal"},"y":{"datum":1.0418},"text":{"value":"1,0418"}}}
 ]}
]
},
{
"width":468,"height":56,
"layer":[
 {"data":{"name":"px"},"mark":{"type":"bar","size":1.3},
  "encoding":{
   "x":{"field":"d","type":"temporal","scale":{"type":"utc","domain":[{"year":2024,"month":3,"date":19,"hours":12,"utc":true},{"year":2025,"month":1,"date":31,"utc":true}]},"axis":{"labels":false,"ticks":false,"domain":false,"title":null}},
   "y":{"field":"v","type":"quantitative","scale":{"domain":[0,290000],"nice":false},"axis":{"orient":"right","values":[100000,200000],"tickCount":10,"format":",d","title":null,"labelOverlap":false}},
   "color":{"condition":{"test":"datum.c >= datum.o","value":"#46cc46"},"value":"#e84848"}}},
 {"data":{"values":[{}]},"layer":[
  {"mark":{"type":"rect","fill":"#f4f4f4","stroke":"#c8c8c8","strokeWidth":0.7},"encoding":{"x":{"datum":{"year":2024,"month":3,"date":20,"hours":4,"utc":true},"type":"temporal"},"x2":{"datum":{"year":2024,"month":4,"date":30,"hours":13,"utc":true}},"y":{"datum":279640},"y2":{"datum":222670}}},
  {"mark":{"type":"rect","fill":"#d42020"},"encoding":{"x":{"datum":{"year":2024,"month":3,"date":21,"hours":13,"utc":true},"type":"temporal"},"x2":{"datum":{"year":2024,"month":3,"date":23,"hours":22,"utc":true}},"y":{"datum":266000},"y2":{"datum":235000}}},
  {"mark":{"type":"rect","fill":"#20a020"},"encoding":{"x":{"datum":{"year":2024,"month":3,"date":23,"hours":22,"utc":true},"type":"temporal"},"x2":{"datum":{"year":2024,"month":3,"date":26,"hours":7,"utc":true}},"y":{"datum":266000},"y2":{"datum":235000}}},
  {"mark":{"type":"text"},"encoding":{"x":{"datum":{"year":2024,"month":3,"date":27,"hours":15,"utc":true},"type":"temporal"},"y":{"datum":251160},"text":{"value":"Volume"}}},
  {"mark":{"type":"text","color":"#e05050"},"encoding":{"x":{"datum":{"year":2024,"month":4,"date":13,"hours":14,"utc":true},"type":"temporal"},"y":{"datum":251160},"text":{"value":"52 050"}}},
  {"mark":{"type":"rect","fill":"#ffffff","stroke":"#e0a0a0","strokeWidth":0.7,"clip":false},"encoding":{"x":{"datum":{"year":2025,"month":2,"date":1,"hours":9,"utc":true},"type":"temporal"},"x2":{"datum":{"year":2025,"month":2,"date":21,"hours":0,"utc":true}},"y":{"datum":75000},"y2":{"datum":29000}}},
  {"mark":{"type":"text","color":"#e05050","align":"center","fontSize":7,"clip":false},"encoding":{"x":{"datum":{"year":2025,"month":2,"date":11,"hours":5,"utc":true},"type":"temporal"},"y":{"datum":52050},"text":{"value":"52 050"}}}
 ]}
]
},
{
"width":468,"height":40,
"layer":[
 {"data":{"name":"rsi"},"mark":{"type":"line","color":"#222222","strokeWidth":1},
  "encoding":{
   "x":{"field":"d","type":"temporal","scale":{"type":"utc","domain":[{"year":2024,"month":3,"date":19,"hours":12,"utc":true},{"year":2025,"month":1,"date":31,"utc":true}]},
        "axis":{"orient":"bottom","title":null,"domain":false,"tickSize":2,"labelPadding":2,"tickCount":{"interval":"month","step":1},
                "labelExpr":"utcmonth(datum.value)==0 ? utcFormat(datum.value,'%Y') : ['janv.','févr.','mars','avr.','mai','juin','juil.','août','sept.','oct.','nov.','déc.'][utcmonth(datum.value)]",
                "labelFontWeight":{"condition":{"test":"utcmonth(datum.value)==0","value":"bold"},"value":"normal"}}},
   "y":{"field":"r","type":"quantitative","scale":{"domain":[-14,116.3],"nice":false,"zero":false},"axis":{"orient":"right","values":[0,50,100],"tickCount":10,"title":null,"labelOverlap":false}}}},
 {"data":{"values":[{}]},"layer":[
  {"mark":{"type":"rule","color":"#aaaaaa","strokeDash":[2,2]},"encoding":{"y":{"datum":70}}},
  {"mark":{"type":"rule","color":"#aaaaaa","strokeDash":[2,2]},"encoding":{"y":{"datum":30}}},
  {"mark":{"type":"rect","fill":"#f4f4f4","stroke":"#c8c8c8","strokeWidth":0.7},"encoding":{"x":{"datum":{"year":2024,"month":3,"date":20,"hours":4,"utc":true},"type":"temporal"},"x2":{"datum":{"year":2024,"month":4,"date":29,"hours":22,"utc":true}},"y":{"datum":113},"y2":{"datum":82}}},
  {"mark":{"type":"rect","fill":"#000000"},"encoding":{"x":{"datum":{"year":2024,"month":3,"date":21,"hours":13,"utc":true},"type":"temporal"},"x2":{"datum":{"year":2024,"month":3,"date":25,"hours":14,"utc":true}},"y":{"datum":106.5},"y2":{"datum":88.6}}},
  {"mark":{"type":"text"},"encoding":{"x":{"datum":{"year":2024,"month":3,"date":26,"hours":23,"utc":true},"type":"temporal"},"y":{"datum":97.7},"text":{"value":"RSI (14) 39,332"}}},
  {"mark":{"type":"rect","fill":"#ffffff","stroke":"#999999","strokeWidth":0.7,"clip":false},"encoding":{"x":{"datum":{"year":2025,"month":2,"date":1,"hours":9,"utc":true},"type":"temporal"},"x2":{"datum":{"year":2025,"month":2,"date":21,"hours":0,"utc":true}},"y":{"datum":53},"y2":{"datum":25}}},
  {"mark":{"type":"text","align":"center","fontSize":7,"clip":false},"encoding":{"x":{"datum":{"year":2025,"month":2,"date":11,"hours":5,"utc":true},"type":"temporal"},"y":{"datum":39.332},"text":{"value":"39,332"}}}
 ]}
]
}
]
}
